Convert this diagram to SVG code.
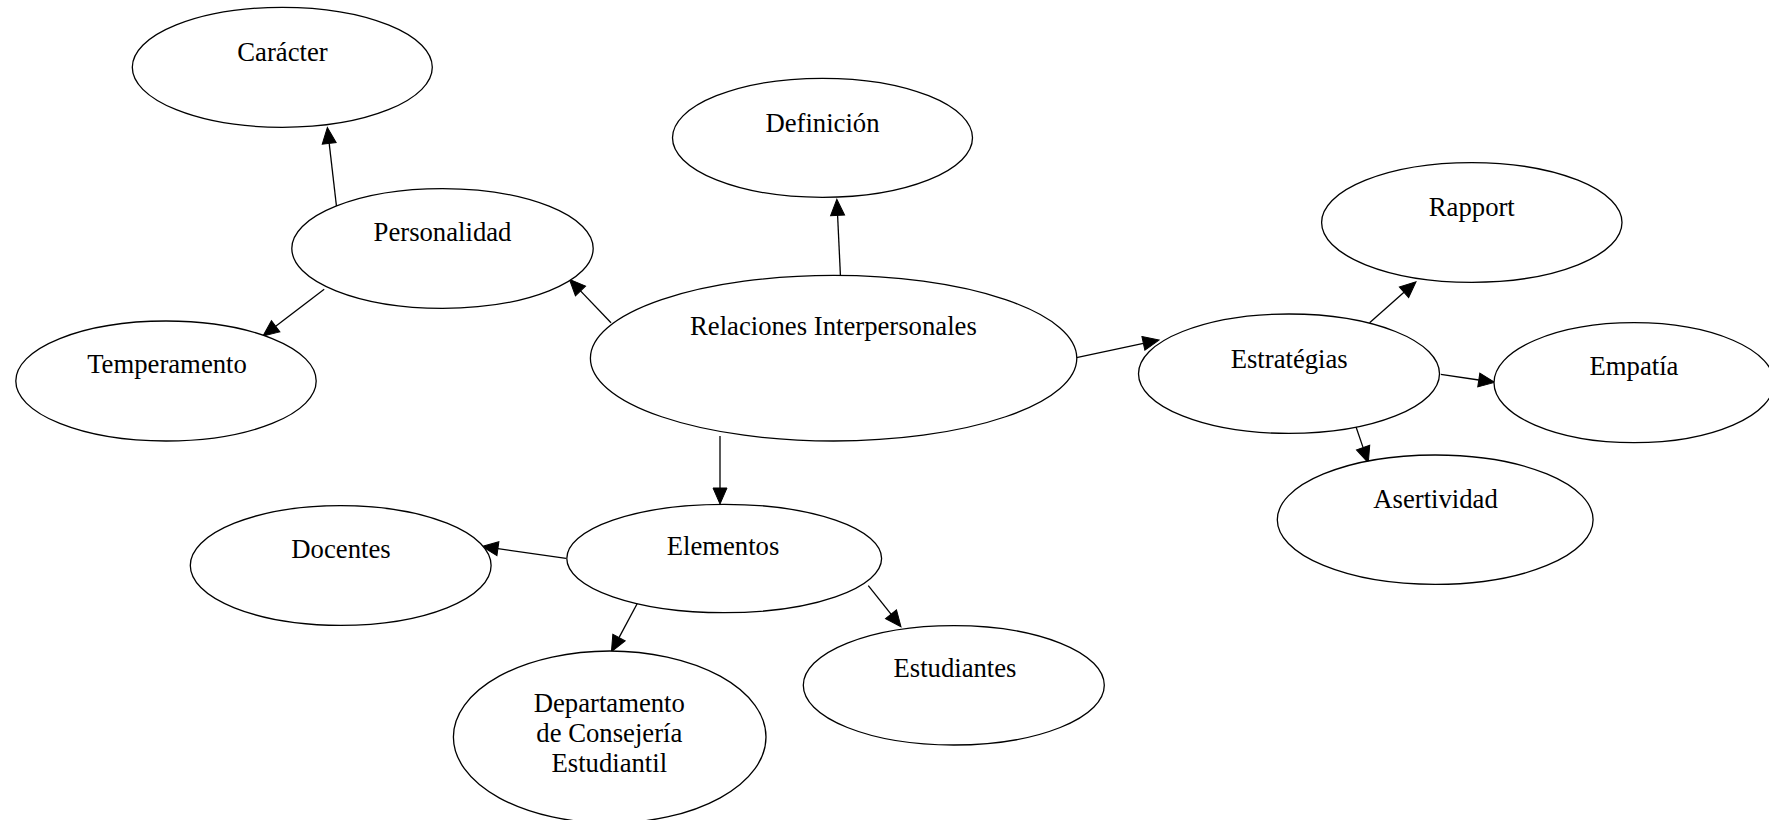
<svg xmlns="http://www.w3.org/2000/svg" width="1769" height="820" viewBox="0 0 1769 820">
<style>
.n ellipse{fill:#fff;stroke:#000;stroke-width:1.3}
.n text{font-family:"Liberation Serif","Times New Roman",serif;font-size:26.7px;fill:#000;text-anchor:middle}
.e line{stroke:#000;stroke-width:1.3;fill:none;marker-end:url(#ah)}
</style>
<defs>
<marker id="ah" markerUnits="userSpaceOnUse" markerWidth="18" markerHeight="16" refX="0" refY="7" orient="auto" overflow="visible">
<path d="M0,0 L16,7 L0,14 Z" fill="#000" stroke="#000" stroke-width="1"/>
</marker>
</defs>
<rect width="1769" height="820" fill="#fff"/>
<g id="connectors" class="e">
<line x1="611" y1="322.7" x2="580.5" y2="290.9"/>
<line x1="336.5" y1="206.5" x2="329.2" y2="143.4"/>
<line x1="324.2" y1="289.3" x2="275.7" y2="326.3"/>
<line x1="840.4" y1="275" x2="837.6" y2="215.3"/>
<line x1="1076.5" y1="357.7" x2="1143.4" y2="343.4"/>
<line x1="1369.6" y1="322.7" x2="1404" y2="292.3"/>
<line x1="1440.8" y1="374.3" x2="1478.8" y2="380"/>
<line x1="1355.1" y1="424.3" x2="1363.1" y2="447.6"/>
<line x1="720" y1="436" x2="720" y2="488"/>
<line x1="566" y1="558.3" x2="497.9" y2="548.7"/>
<line x1="638.6" y1="601" x2="619" y2="637.6"/>
<line x1="868.3" y1="585.7" x2="891" y2="614.2"/>
</g>
<g id="caracter" class="n"><ellipse cx="282.3" cy="67.3" rx="150" ry="60"/><text x="282.5" y="60.7">Carácter</text></g>
<g id="definicion" class="n"><ellipse cx="822.5" cy="137.8" rx="150" ry="59.5"/><text x="822.5" y="131.7">Definición</text></g>
<g id="personalidad" class="n"><ellipse cx="442.5" cy="248.5" rx="150.7" ry="59.8"/><text x="442.5" y="240.7">Personalidad</text></g>
<g id="relaciones" class="n"><ellipse cx="833.6" cy="358.2" rx="243.2" ry="82.8"/><text x="833.4" y="335">Relaciones Interpersonales</text></g>
<g id="temperamento" class="n"><ellipse cx="166" cy="381" rx="150.2" ry="60"/><text x="167" y="373.3">Temperamento</text></g>
<g id="rapport" class="n"><ellipse cx="1471.8" cy="222.5" rx="150.2" ry="59.8"/><text x="1471.8" y="216">Rapport</text></g>
<g id="estrategias" class="n"><ellipse cx="1289" cy="373.7" rx="150.5" ry="59.7"/><text x="1289.2" y="367.7">Estratégias</text></g>
<g id="empatia" class="n"><ellipse cx="1634" cy="382.7" rx="140" ry="60"/><text x="1634" y="375">Empatía</text></g>
<g id="asertividad" class="n"><ellipse cx="1435.2" cy="519.7" rx="157.9" ry="64.7"/><text x="1435.5" y="508.3">Asertividad</text></g>
<g id="elementos" class="n"><ellipse cx="724.2" cy="558.5" rx="157.4" ry="54.2"/><text x="723" y="555">Elementos</text></g>
<g id="docentes" class="n"><ellipse cx="340.7" cy="565.5" rx="150.4" ry="59.8"/><text x="341" y="557.7">Docentes</text></g>
<g id="estudiantes" class="n"><ellipse cx="953.8" cy="685.3" rx="150.5" ry="59.7"/><text x="955" y="676.7">Estudiantes</text></g>
<g id="departamento" class="n"><ellipse cx="609.7" cy="737" rx="156.3" ry="86"/><text x="609.3" y="711.7">Departamento</text><text x="609.3" y="742.3">de Consejería</text><text x="609.3" y="772.3">Estudiantil</text></g>
</svg>
